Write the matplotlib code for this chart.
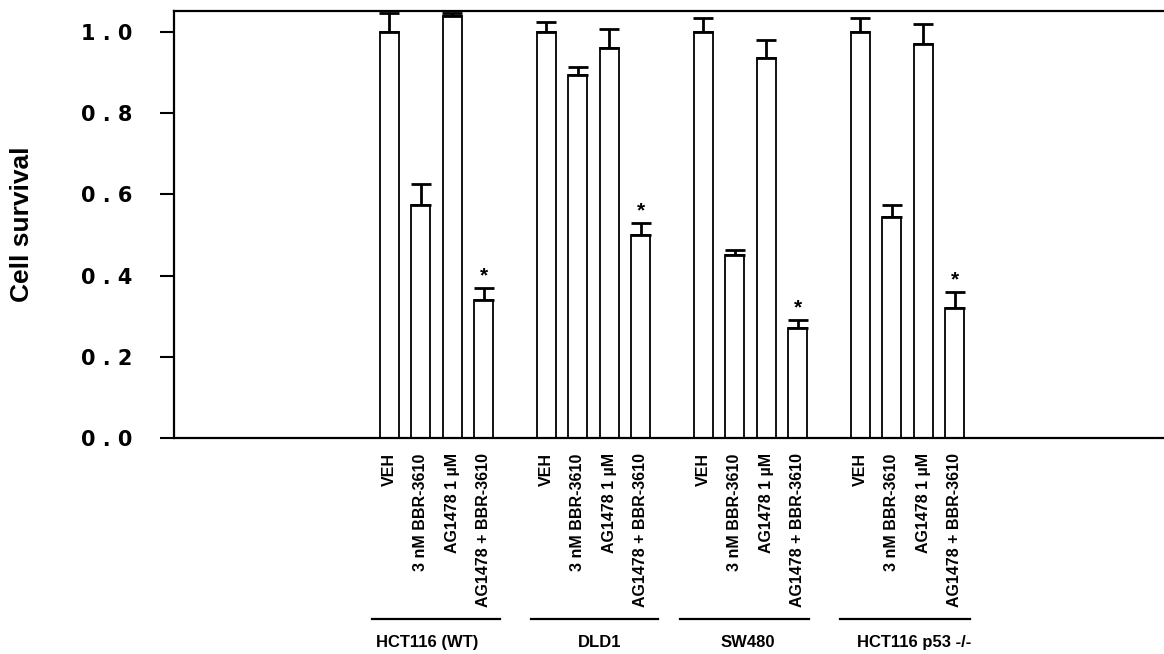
import numpy as np
import matplotlib
matplotlib.use("Agg")
import matplotlib.pyplot as plt
import matplotlib.transforms as mtransforms
from matplotlib import font_manager

plt.rcParams["font.family"] = ["Liberation Sans", "DejaVu Sans"]
plt.rcParams["font.weight"] = "bold"

treatments = ["VEH", "3 nM BBR-3610", "AG1478 1 \u00b5M", "AG1478 + BBR-3610"]
cell_lines = ["HCT116 (WT)", "DLD1", "SW480", "HCT116 p53 -/-"]

survival = [
    [1.00, 0.575, 1.04, 0.34],
    [1.00, 0.895, 0.96, 0.50],
    [1.00, 0.45, 0.935, 0.27],
    [1.00, 0.545, 0.97, 0.32],
]
errors = [
    [0.048, 0.05, 0.006, 0.03],
    [0.025, 0.02, 0.048, 0.03],
    [0.035, 0.012, 0.045, 0.02],
    [0.035, 0.028, 0.05, 0.04],
]
significant = [
    [False, False, False, True],
    [False, False, False, True],
    [False, False, False, True],
    [False, False, False, True],
]

# condensed font for the bar labels, if there is one
try:
    font_manager.findfont(font_manager.FontProperties(family="Liberation Sans Narrow", weight="bold"),
                          fallback_to_default=False)
    narrow = ["Liberation Sans Narrow", "DejaVu Sans"]
    tick_fs = 13.5
except Exception:
    narrow = ["Liberation Sans", "DejaVu Sans"]
    tick_fs = 11.5

fig = plt.figure(figsize=(11.64, 6.54), dpi=100)
ax = fig.add_axes([0.1495, 0.3303, 0.8505, 0.6529])

xs, heights, errs, labels = [], [], [], []
for g in range(len(cell_lines)):
    for t in range(len(treatments)):
        xs.append(g * 5 + t)
        heights.append(survival[g][t])
        errs.append(errors[g][t])
        labels.append(treatments[t])
xs = np.array(xs)
heights = np.array(heights)
errs = np.array(errs)

ax.bar(xs, heights, width=0.6, color="white", edgecolor="black", linewidth=1.3, zorder=2)
ax.errorbar(xs, heights, yerr=[np.zeros_like(errs), errs], fmt="none",
            ecolor="black", elinewidth=2, capsize=7.5, capthick=2, zorder=3)

for g in range(len(cell_lines)):
    for t in range(len(treatments)):
        if significant[g][t]:
            ax.text(g * 5 + t, survival[g][t] + errors[g][t] + 0.006, "*",
                    ha="center", va="bottom", fontsize=15, fontweight="bold")

ax.set_xlim(-6.86, 24.67)
ax.set_ylim(0, 1.052)
yt = [0, 0.2, 0.4, 0.6, 0.8, 1.0]
ax.set_yticks(yt)
ax.set_yticklabels([" . ".join(f"{v:.1f}".split(".")) for v in yt],
                   fontsize=15, fontweight="bold", family="DejaVu Sans")
ax.tick_params(axis="y", direction="out", length=10, width=1.5, pad=20)
ax.set_xticks(xs)
ax.set_xticklabels(labels, rotation=90, va="top", ha="center", fontsize=tick_fs,
                   fontweight="bold", family=narrow)
ax.tick_params(axis="x", length=0, pad=11)
ax.text(-152 / 990, 0.5, "Cell survival", transform=ax.transAxes, rotation=90,
        ha="center", va="center", fontsize=19, fontweight="bold")

for side in ["left", "bottom", "top"]:
    ax.spines[side].set_linewidth(1.6)
ax.spines["right"].set_visible(False)

trans = mtransforms.blended_transform_factory(ax.transData, ax.transAxes)
line_spans = [(-0.56, 3.52), (4.5, 8.55), (9.25, 13.35), (14.35, 18.5)]
label_x = [1.2, 6.7, 11.4, 16.7]
for (x0, x1), lx, name in zip(line_spans, label_x, cell_lines):
    ax.plot([x0, x1], [-0.424, -0.424], color="black", lw=1.6, transform=trans, clip_on=False)
    ax.text(lx, -0.478, name, transform=trans, ha="center", va="center",
            fontsize=12, fontweight="bold")

fig.savefig("out.png", dpi=100)
